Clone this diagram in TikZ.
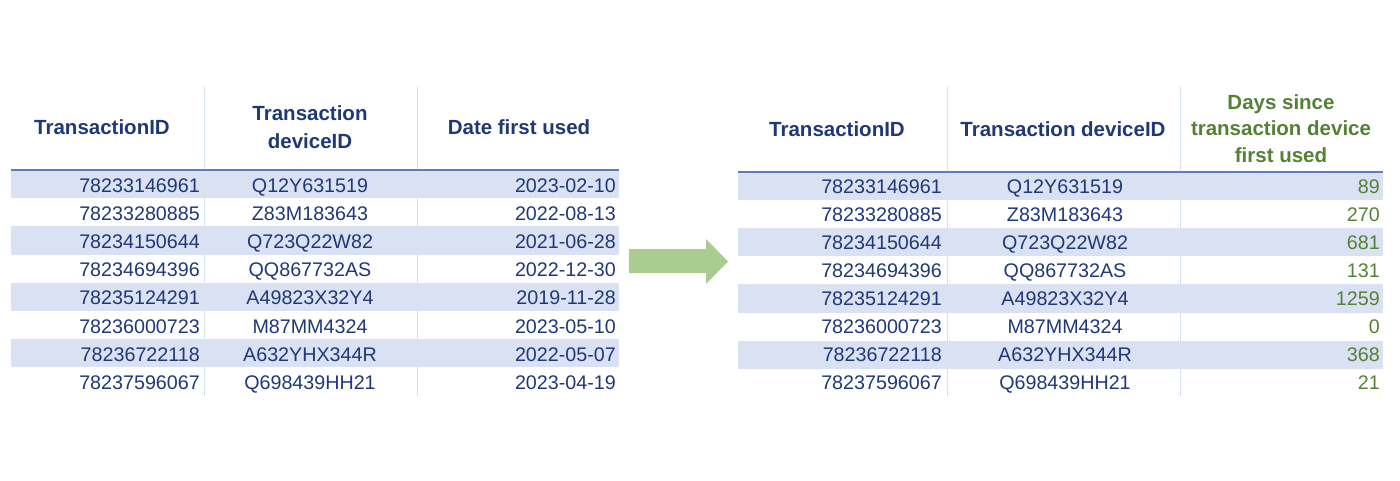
\documentclass[tikz,border=0pt]{standalone}
\usepackage{fontspec}
\setmainfont{Liberation Sans}
\definecolor{txtblue}{RGB}{31,56,120}
\definecolor{txtgreen}{RGB}{84,130,53}
\definecolor{rowblue}{RGB}{217,225,242}
\definecolor{hdrline}{RGB}{96,125,185}
\definecolor{sepline}{RGB}{214,223,240}
\definecolor{arrowgreen}{RGB}{169,205,142}
\begin{document}
\begin{tikzpicture}[x=1pt,y=-1pt,
  cell/.style={inner sep=0pt, text height=14pt, text depth=0pt, font=\fontsize{19.7}{23}\selectfont, text=txtblue},
  numgreen/.style={cell, text=txtgreen},
  hdr/.style={inner sep=0pt, align=center, font=\bfseries\fontsize{20.5}{28}\selectfont, text=txtblue},
  hdrgreen/.style={hdr, font=\bfseries\fontsize{20.5}{26.7}\selectfont, text=txtgreen},
  shade/.style={fill=rowblue, draw=none},
  sep/.style={draw=sepline, line width=1pt},
  hline/.style={draw=hdrline, line width=1.2pt},
  blockarrow/.style={fill=arrowgreen, draw=none}
]
\useasboundingbox (0,0) rectangle (1400,481);

% ---------- left table ----------
\path[sep] (204,87) -- (204,396);
\path[sep] (417,87) -- (417,396);
\foreach \i in {0,2,4,6}
  \path[shade] (11,{170+28.2*\i}) rectangle (619,{170+28.2*(\i+1)});
\path[hline] (11,170) -- (619,170);

\node[hdr] (lh1) at (102,127) {TransactionID};
\node[hdr] (lh2) at (310,127) {Transaction\\deviceID};
\node[hdr] (lh3) at (519,127) {Date first used};

\foreach \a/\b/\c [count=\i from 0] in {
  78233146961/Q12Y631519/2023-02-10,
  78233280885/Z83M183643/2022-08-13,
  78234150644/Q723Q22W82/2021-06-28,
  78234694396/QQ867732AS/2022-12-30,
  78235124291/A49823X32Y4/2019-11-28,
  78236000723/M87MM4324/2023-05-10,
  78236722118/A632YHX344R/2022-05-07,
  78237596067/Q698439HH21/2023-04-19}{
  \node[cell, anchor=east] (la\i) at (200,{171+28.2*(\i+0.5)}) {\a};
  \node[cell] (lb\i) at (310,{171+28.2*(\i+0.5)}) {\b};
  \node[cell, anchor=east] (lc\i) at (616,{171+28.2*(\i+0.5)}) {\c};
}

% ---------- arrow ----------
\path[blockarrow] (629,249) -- (706,249) -- (706,239) -- (728,261.5)
  -- (706,284) -- (706,273) -- (629,273) -- cycle;

% ---------- right table ----------
\path[sep] (947,87) -- (947,396);
\path[sep] (1180,87) -- (1180,396);
\foreach \i in {0,2,4,6}
  \path[shade] (738,{172+28.1*\i}) rectangle (1383,{172+28.1*(\i+1)});
\path[hline] (738,172) -- (1383,172);

\node[hdr] (rh1) at (837,129) {TransactionID};
\node[hdr] (rh2) at (1063,129) {Transaction deviceID};
\node[hdrgreen] (rh3) at (1281,128.5) {Days since\\transaction device\\first used};

\foreach \a/\b/\c [count=\i from 0] in {
  78233146961/Q12Y631519/89,
  78233280885/Z83M183643/270,
  78234150644/Q723Q22W82/681,
  78234694396/QQ867732AS/131,
  78235124291/A49823X32Y4/1259,
  78236000723/M87MM4324/0,
  78236722118/A632YHX344R/368,
  78237596067/Q698439HH21/21}{
  \node[cell, anchor=east] (ra\i) at (942,{172+28.1*(\i+0.5)}) {\a};
  \node[cell] (rb\i) at (1065,{172+28.1*(\i+0.5)}) {\b};
  \node[numgreen, anchor=east] (rc\i) at (1380,{172+28.1*(\i+0.5)}) {\c};
}
\end{tikzpicture}
\end{document}
